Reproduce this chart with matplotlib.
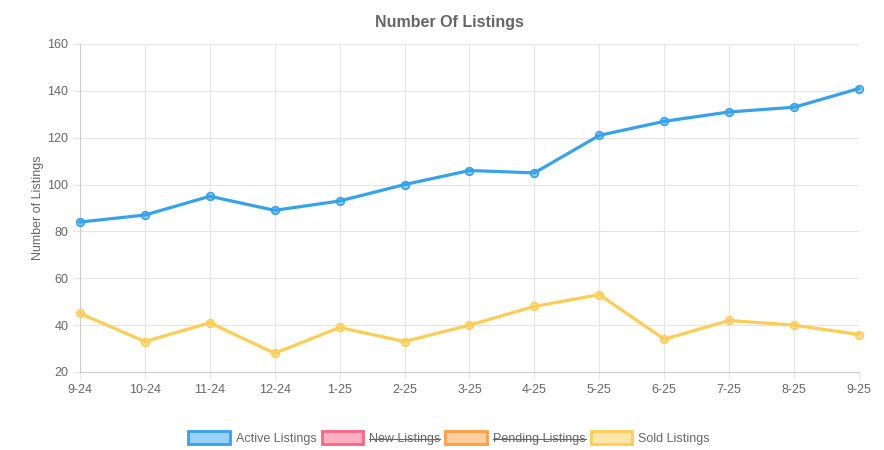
import matplotlib
matplotlib.use("Agg")
import matplotlib.pyplot as plt
from matplotlib.patches import Patch
from matplotlib.lines import Line2D

plt.rcParams['font.family'] = ['Liberation Sans', 'DejaVu Sans']

# Data
months = ["9-24", "10-24", "11-24", "12-24", "1-25", "2-25", "3-25",
          "4-25", "5-25", "6-25", "7-25", "8-25", "9-25"]
active = [84, 87, 95, 89, 93, 100, 106, 105, 121, 127, 131, 133, 141]
sold = [45, 33, 41, 28, 39, 33, 40, 48, 53, 34, 42, 40, 36]

legend_names = ["Active Listings", "New Listings", "Pending Listings", "Sold Listings"]
legend_colors = ["#36a2eb", "#ff6384", "#ff9f40", "#ffcd56"]
hidden = [False, True, True, False]

text_col = "#666666"
grid_col = "#e5e5e5"

fig = plt.figure(figsize=(8.84, 4.5), dpi=100)
ax = fig.add_axes([80 / 884, 1 - 372 / 450, (859 - 80) / 884, (372 - 44) / 450])

x = list(range(len(months)))
for vals, col in [(active, legend_colors[0]), (sold, legend_colors[3])]:
    ax.plot(x, vals, color=col, lw=2.3, marker="o", ms=5.5,
            markerfacecolor=col + "80", markeredgecolor=col, mew=1.2, zorder=3,
            clip_on=False)

ax.set_xlim(0, len(months) - 1)
ax.set_ylim(20, 160)
ax.set_yticks(range(20, 161, 20))
ax.set_xticks(x)
ax.set_xticklabels(months)
ax.grid(True, color=grid_col, lw=0.8)
ax.set_axisbelow(True)
for s in ["top", "right"]:
    ax.spines[s].set_visible(False)
for s in ["left", "bottom"]:
    ax.spines[s].set_color("#cccccc")
    ax.spines[s].set_linewidth(0.8)
ax.tick_params(colors=text_col, labelsize=9, length=5, width=0.8)
ax.tick_params(axis="both", color=grid_col)
ax.set_ylabel("Number of Listings", color=text_col, fontsize=9, labelpad=2)

fig.text(449 / 884, 1 - 22 / 450, "Number Of Listings", ha="center", va="center",
         fontsize=11.5, fontweight="bold", color=text_col)

handles = [Patch(facecolor=c + "80", edgecolor=c, lw=2) for c in legend_colors]
leg = fig.legend(handles, legend_names, loc="center", bbox_to_anchor=(449 / 884, 1 - 438 / 450),
                 ncol=4, frameon=False, fontsize=9, handlelength=3.3, handleheight=1.2,
                 handletextpad=0.5, columnspacing=0.4, labelcolor=text_col)

# strike through the hidden series labels
fig.canvas.draw()
renderer = fig.canvas.get_renderer()
for t, h in zip(leg.get_texts(), hidden):
    if h:
        bb = t.get_window_extent(renderer)
        ym = (bb.y0 + bb.y1) / 2
        fig.add_artist(Line2D([bb.x0 / 884, bb.x1 / 884], [ym / 450, ym / 450],
                              transform=fig.transFigure, color=text_col, lw=0.8))

fig.savefig("out.png", dpi=100)
